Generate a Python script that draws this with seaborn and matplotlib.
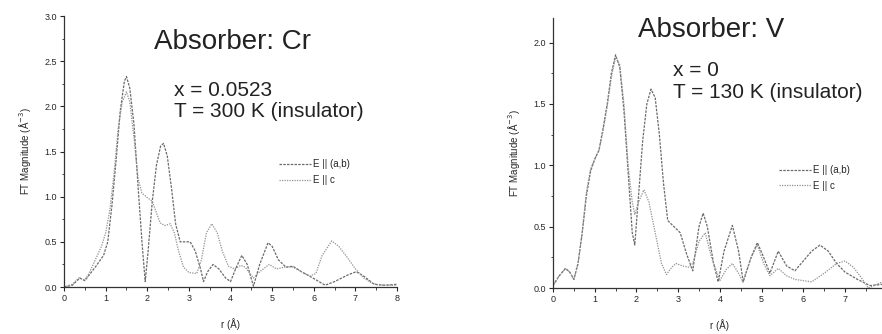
import matplotlib
matplotlib.use('Agg')
import matplotlib.pyplot as plt
import seaborn as sns
from matplotlib.ticker import MultipleLocator

sns.set_style('ticks')
plt.rcParams['font.family'] = ['Liberation Sans', 'DejaVu Sans']

# --- Cr absorber, x = 0.0523, T = 300 K
r_cr_ab = [0, 0.2, 0.38, 0.5, 0.6, 0.75, 0.95, 1.05, 1.15, 1.25, 1.35, 1.45, 1.5, 1.58,
           1.68, 1.78, 1.88, 1.95, 2.02, 2.12, 2.22, 2.32, 2.39, 2.48, 2.58, 2.68, 2.79,
           3.03, 3.15, 3.28, 3.35, 3.45, 3.58, 3.72, 3.88, 4.0, 4.12, 4.27, 4.4, 4.55,
           4.7, 4.9, 5.0, 5.15, 5.33, 5.5, 5.7, 5.9, 6.05, 6.27, 6.5, 6.8, 7.02, 7.2,
           7.45, 7.7, 8.0]
ft_cr_ab = [0, 0.02, 0.1, 0.07, 0.13, 0.22, 0.35, 0.5, 0.9, 1.4, 1.95, 2.28, 2.33, 2.2,
            1.8, 1.1, 0.45, 0.06, 0.4, 0.95, 1.35, 1.56, 1.59, 1.45, 1.1, 0.7, 0.5,
            0.5, 0.4, 0.2, 0.06, 0.17, 0.25, 0.2, 0.1, 0.06, 0.2, 0.35, 0.25, 0.01,
            0.25, 0.49, 0.45, 0.3, 0.22, 0.23, 0.17, 0.12, 0.08, 0.02, 0.06, 0.13, 0.17, 0.12,
            0.03, 0.02, 0.03]

r_cr_c = [0, 0.2, 0.35, 0.5, 0.6, 0.75, 0.9, 1.0, 1.1, 1.2, 1.3, 1.4, 1.5, 1.58, 1.68,
          1.78, 1.87, 2.0, 2.12, 2.22, 2.31, 2.42, 2.55, 2.65, 2.75, 2.87, 3.0, 3.19,
          3.3, 3.42, 3.55, 3.68, 3.8, 3.95, 4.1, 4.25, 4.35, 4.55, 4.7, 4.93, 5.1, 5.3,
          5.5, 5.7, 5.9, 6.05, 6.2, 6.43, 6.6, 6.8, 7.0, 7.2, 7.4, 7.6, 8.0]
ft_cr_c = [0, 0.03, 0.1, 0.08, 0.15, 0.3, 0.45, 0.6, 0.85, 1.25, 1.75, 2.05, 2.16, 2.05, 1.65,
           1.2, 1.04, 0.99, 0.95, 0.82, 0.71, 0.68, 0.7, 0.6, 0.4, 0.22, 0.16, 0.15,
           0.3, 0.6, 0.7, 0.6, 0.4, 0.23, 0.2, 0.24, 0.22, 0.1, 0.17, 0.25, 0.2, 0.22,
           0.22, 0.17, 0.12, 0.15, 0.35, 0.51, 0.45, 0.33, 0.2, 0.1, 0.04, 0.02, 0.02]

# --- V absorber, x = 0, T = 130 K
r_v_ab = [0, 0.15, 0.3, 0.4, 0.5, 0.6, 0.7, 0.8, 0.9, 1.0, 1.1, 1.2, 1.3, 1.4, 1.5, 1.6,
          1.7, 1.8, 1.9, 1.96, 2.05, 2.15, 2.25, 2.35, 2.45, 2.55, 2.65, 2.75, 2.9, 3.05,
          3.2, 3.35, 3.5, 3.6, 3.7, 3.85, 3.96, 4.1, 4.3, 4.45, 4.56, 4.75, 4.9, 5.05,
          5.2, 5.4, 5.6, 5.8, 5.95, 6.2, 6.4, 6.6, 6.8, 7.0, 7.3, 7.6, 7.9]
ft_v_ab = [0.02, 0.1, 0.16, 0.13, 0.07, 0.2, 0.45, 0.75, 0.95, 1.05, 1.12, 1.3, 1.5, 1.75, 1.9, 1.8,
           1.45, 0.95, 0.45, 0.35, 0.75, 1.2, 1.5, 1.62, 1.55, 1.25, 0.85, 0.55, 0.5, 0.45,
           0.28, 0.14, 0.5, 0.61, 0.5, 0.2, 0.05, 0.3, 0.51, 0.3, 0.05, 0.25, 0.37, 0.25,
           0.12, 0.3, 0.18, 0.14, 0.2, 0.3, 0.35, 0.3, 0.2, 0.13, 0.07, 0.02, 0.03]

r_v_c = [0, 0.15, 0.3, 0.4, 0.5, 0.6, 0.7, 0.8, 0.9, 1.0, 1.1, 1.2, 1.3, 1.4, 1.5, 1.6,
         1.7, 1.8, 1.9, 1.96, 2.05, 2.18, 2.3, 2.45, 2.6, 2.72, 2.85, 2.95, 3.1, 3.25,
         3.35, 3.5, 3.65, 3.8, 4.0, 4.15, 4.3, 4.45, 4.55, 4.75, 4.9, 5.05, 5.2, 5.4,
         5.6, 5.8, 6.0, 6.2, 6.5, 6.8, 7.0, 7.2, 7.4, 7.56, 7.9]
ft_v_c = [0.02, 0.1, 0.16, 0.13, 0.07, 0.2, 0.45, 0.78, 0.97, 1.05, 1.12, 1.28, 1.48, 1.72, 1.88, 1.82,
          1.5, 1.0, 0.7, 0.6, 0.7, 0.8, 0.7, 0.45, 0.2, 0.11, 0.17, 0.2, 0.18, 0.17,
          0.2, 0.38, 0.45, 0.25, 0.06, 0.15, 0.2, 0.12, 0.05, 0.25, 0.35, 0.2, 0.1, 0.16,
          0.1, 0.07, 0.06, 0.05, 0.12, 0.2, 0.22, 0.17, 0.08, 0.0, 0.05]

labels = ['E || (a,b)', 'E || c']
line_col = '#6a6a6a'

fig = plt.figure(figsize=(8.82, 3.34), dpi=100)
ax1 = fig.add_axes([0.0726, 0.1407, 0.3776, 0.8113])
ax2 = fig.add_axes([0.627, 0.1377, 0.3783, 0.8084])


def draw_panel(ax, r_ab, ft_ab, r_c, ft_c, ymax, leg_pos):
    sns.lineplot(x=r_ab, y=ft_ab, ax=ax, color=line_col, lw=0.9,
                 linestyle=(0, (2, 1)), label=labels[0])
    sns.lineplot(x=r_c, y=ft_c, ax=ax, color='#909090', lw=0.9,
                 linestyle=(0, (1, 1)), label=labels[1])
    ax.set_xlim(0, 8)
    ax.set_ylim(0, ymax)
    ax.xaxis.set_major_locator(MultipleLocator(1))
    ax.xaxis.set_minor_locator(MultipleLocator(0.5))
    ax.yaxis.set_major_locator(MultipleLocator(0.5))
    ax.yaxis.set_minor_locator(MultipleLocator(0.25))
    ax.yaxis.set_major_formatter(matplotlib.ticker.FormatStrFormatter('%.1f'))
    ax.tick_params(which='major', length=3, width=0.8, labelsize=6.5, pad=2)
    ax.tick_params(which='minor', length=1.8, width=0.6)
    for s in ['left', 'bottom']:
        ax.spines[s].set_linewidth(0.9)
        ax.spines[s].set_color('#333333')
    sns.despine(ax=ax)
    ax.set_xlabel('r (Å)', fontsize=7, labelpad=11)
    ax.set_ylabel('FT Magnitude (Å$^{-3}$)', fontsize=7, labelpad=8)
    ax.legend(loc='upper left', bbox_to_anchor=leg_pos, frameon=False,
              fontsize=7, handlelength=3.3, handletextpad=0.2,
              labelspacing=0.6, borderaxespad=0)


draw_panel(ax1, r_cr_ab, ft_cr_ab, r_cr_c, ft_cr_c, 3.0, (0.634, 0.485))
ax1.text(0.505, 0.905, 'Absorber: Cr', transform=ax1.transAxes, ha='center',
         va='center', fontsize=20, color='#222222')
ax1.text(0.33, 0.686, 'x = 0.0523\nT = 300 K (insulator)', transform=ax1.transAxes,
         ha='left', va='center', fontsize=15, linespacing=1.15, color='#222222')

draw_panel(ax2, r_v_ab, ft_v_ab, r_v_c, ft_v_c, 2.2, (0.665, 0.47))
ax2.set_xticks(range(8))
ax2.text(0.475, 0.955, 'Absorber: V', transform=ax2.transAxes, ha='center',
         va='center', fontsize=20, color='#222222')
ax2.text(0.36, 0.765, 'x = 0\nT = 130 K (insulator)', transform=ax2.transAxes,
         ha='left', va='center', fontsize=15, linespacing=1.15, color='#222222')

fig.savefig('out.png', dpi=100)
